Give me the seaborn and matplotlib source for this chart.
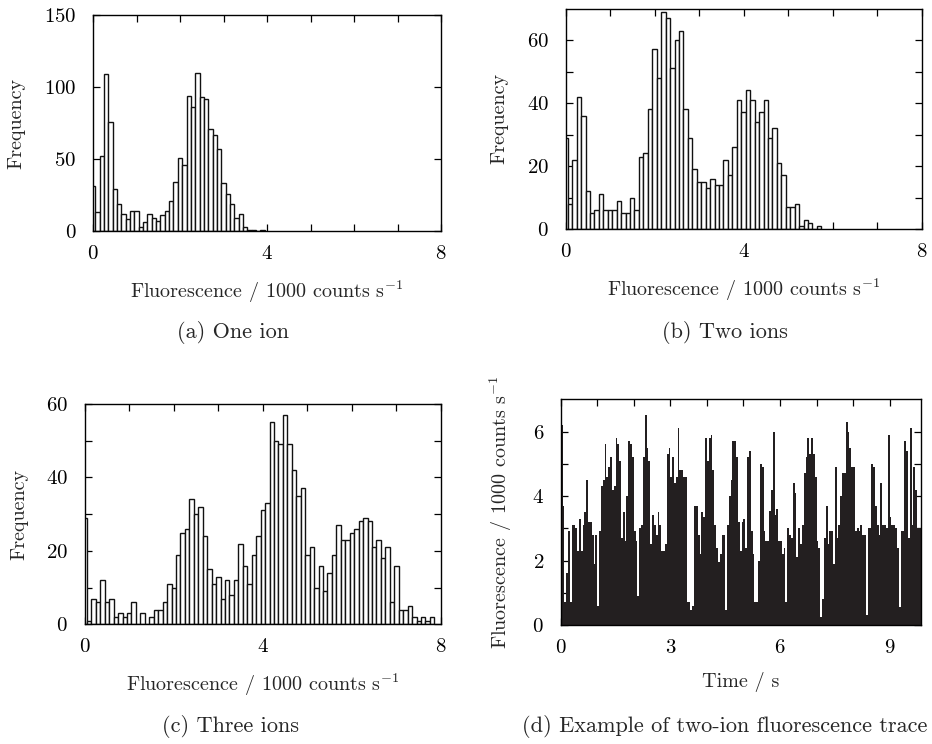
import numpy as np
import pandas as pd
import matplotlib
matplotlib.use("Agg")
import matplotlib.pyplot as plt
import seaborn as sns
from matplotlib.ticker import FixedLocator, NullFormatter

# ---------------- data ----------------
BIN = 0.1   # histogram bin width (1000 counts/s), bins centred on multiples of 0.1
DT = 0.05   # trace time step (s)

one_ion = [31, 13, 52, 109, 76, 29, 19, 12, 8, 14, 14, 3, 6, 12, 9, 7, 11, 14, 21, 34,
           51, 46, 94, 86, 110, 93, 92, 71, 67, 57, 33, 26, 19, 9, 12, 3, 1, 1, 0, 1]

two_ions = [29, 8, 22, 42, 36, 12, 5, 6, 11, 6, 6, 6, 9, 5, 5, 10, 6, 23, 24, 38,
            57, 48, 69, 67, 51, 60, 63, 38, 29, 19, 15, 15, 13, 16, 14, 14, 22, 17, 26, 41,
            37, 44, 41, 34, 37, 41, 29, 32, 21, 17, 7, 7, 8, 1, 3, 2, 0, 1]

three_ions = [29, 1, 7, 6, 12, 6, 7, 2, 3, 2, 3, 6, 0, 3, 0, 2, 4, 4, 6, 11,
              10, 19, 25, 26, 34, 30, 32, 24, 15, 11, 13, 7, 12, 8, 12, 22, 16, 11, 19, 24,
              31, 33, 55, 50, 49, 57, 49, 42, 35, 37, 19, 21, 10, 16, 9, 14, 19, 27, 23, 23,
              25, 26, 28, 29, 28, 21, 23, 18, 21, 6, 16, 4, 4, 5, 2, 1, 2, 1, 2]

trace = [6.2, 3.7, 0.7, 1.6, 2.9, 0.7, 3.1, 3.1, 3.0, 2.3,
         3.3, 2.3, 3.1, 3.5, 4.5, 3.2, 3.2, 2.8, 1.9, 2.8,
         0.6, 2.9, 4.3, 4.5, 5.6, 4.6, 4.9, 5.2, 4.2, 4.3,
         5.8, 5.6, 5.1, 2.7, 3.5, 2.6, 4.0, 5.7, 5.6, 5.2,
         2.9, 2.6, 0.9, 3.0, 3.1, 5.2, 6.5, 5.5, 5.1, 2.5,
         3.4, 3.1, 2.8, 3.5, 3.1, 2.3, 2.3, 2.5, 5.3, 5.5,
         4.6, 5.2, 4.4, 4.6, 6.1, 4.8, 4.8, 4.6, 4.6, 0.7,
         0.7, 0.45, 0.6, 3.7, 3.7, 2.8, 2.2, 3.5, 3.35, 5.8,
         5.1, 5.8, 5.9, 4.8, 3.1, 2.4, 1.95, 2.2, 2.8, 2.8,
         0.46, 3.1, 4.0, 4.5, 5.7, 5.7, 5.2, 3.2, 2.3, 3.2,
         3.3, 2.4, 5.2, 5.4, 2.9, 2.2, 0.7, 0.7, 2.0, 5.0,
         4.9, 2.9, 2.6, 2.6, 3.55, 4.2, 6.0, 3.4, 3.6, 2.6,
         2.6, 2.2, 2.4, 0.7, 3.0, 2.8, 2.7, 4.4, 4.1, 2.1,
         3.0, 2.5, 3.1, 4.7, 5.2, 5.8, 5.3, 5.8, 5.3, 4.6,
         2.6, 2.4, 0.26, 0.8, 2.7, 3.7, 2.5, 2.9, 2.9, 1.9,
         4.9, 2.7, 3.1, 4.0, 4.7, 4.7, 6.3, 6.0, 5.5, 4.9,
         4.9, 2.9, 3.0, 2.9, 3.1, 2.8, 2.8, 0.3, 3.0, 3.0,
         5.0, 4.9, 3.7, 3.1, 2.8, 4.4, 3.1, 3.1, 3.0, 5.9,
         3.35, 3.1, 3.1, 3.0, 2.4, 0.57, 2.9, 2.9, 5.7, 5.4,
         2.7, 6.1, 3.1, 4.9, 4.2, 3.0, 3.0]

hist_xlabel = r"Fluorescence / 1000 counts s$^{-1}$"
captions = ["(a) One ion", "(b) Two ions", "(c) Three ions",
            "(d) Example of two-ion fluorescence trace"]

# ---------------- style ----------------
sns.set_theme(style="ticks")
plt.rcParams["font.family"] = ["cmr10", "DejaVu Serif"]
plt.rcParams["mathtext.fontset"] = "cm"
plt.rcParams["axes.formatter.use_mathtext"] = True
plt.rcParams["axes.unicode_minus"] = False
plt.rcParams["axes.linewidth"] = 1.0
plt.rcParams["axes.edgecolor"] = "black"

TICK_FS = 15
LABEL_FS = 14.5
CAP_FS = 16

fig = plt.figure(figsize=(9.32, 7.44), dpi=100)
W, H = 932.0, 744.0


def add_axes(l, r, t, b):
    return fig.add_axes([l / W, 1 - b / H, (r - l) / W, (b - t) / H])


def style(ax, xmaj, xmin, ymaj, ymin):
    ax.xaxis.set_major_locator(FixedLocator(xmaj))
    ax.xaxis.set_minor_locator(FixedLocator(xmin))
    ax.yaxis.set_major_locator(FixedLocator(ymaj))
    ax.yaxis.set_minor_locator(FixedLocator(ymin))
    ax.xaxis.set_minor_formatter(NullFormatter())
    ax.yaxis.set_minor_formatter(NullFormatter())
    ax.tick_params(which="both", direction="in", top=True, right=True,
                   length=5, width=0.9, colors="black", labelsize=TICK_FS)
    ax.tick_params(axis="x", which="both", pad=10)
    ax.tick_params(axis="y", which="both", pad=12)
    for s in ax.spines.values():
        s.set_visible(True)
        s.set_color("black")


def hist_panel(ax, counts, ylim, ymaj, ymin):
    df = pd.DataFrame({"centre": np.arange(len(counts)) * BIN, "count": counts})
    edges = list(np.arange(len(counts) + 1) * BIN - BIN / 2)
    sns.histplot(data=df, x="centre", weights="count", bins=edges, ax=ax,
                 color="white", edgecolor="#111111", linewidth=1.0, alpha=1)
    ax.set_xlim(0, 8)
    ax.set_ylim(*ylim)
    style(ax, [0, 4, 8], [1, 2, 3, 5, 6, 7], ymaj, ymin)
    ax.set_xlabel(hist_xlabel, fontsize=LABEL_FS, labelpad=11)
    ax.set_ylabel("Frequency", fontsize=LABEL_FS, labelpad=13)


ax_a = add_axes(93, 441, 15, 231)
hist_panel(ax_a, one_ion, (0, 150), [0, 50, 100, 150], [])

ax_b = add_axes(565.5, 921.5, 8.5, 229)
hist_panel(ax_b, two_ions, (0, 70), [0, 20, 40, 60], [10, 30, 50])

ax_c = add_axes(84.7, 441, 404, 624.3)
hist_panel(ax_c, three_ions, (0, 60), [0, 20, 40, 60], [10, 30, 50])

# trace panel
ax_d = add_axes(560.7, 920.7, 399.3, 625)
tdf = pd.DataFrame({"time": np.arange(len(trace)) * DT + DT / 2, "fluor": trace})
tedges = list(np.arange(len(trace) + 1) * DT)
sns.histplot(data=tdf, x="time", weights="fluor", bins=tedges, ax=ax_d,
             color="#231f20", element="bars", linewidth=0, alpha=1)
ax_d.set_xlim(0, 9.85)
ax_d.set_ylim(0, 7)
style(ax_d, [0, 3, 6, 9], [1, 2, 4, 5, 7, 8], [0, 2, 4, 6], [1, 3, 5])
ax_d.set_xlabel("Time / s", fontsize=LABEL_FS, labelpad=11)
ax_d.set_ylabel(hist_xlabel, fontsize=LABEL_FS, labelpad=13)

# captions
fig.text(233 / W, 1 - 333 / H, captions[0], ha="center", va="center", fontsize=CAP_FS)
fig.text(725 / W, 1 - 333 / H, captions[1], ha="center", va="center", fontsize=CAP_FS)
fig.text(230 / W, 1 - 726 / H, captions[2], ha="center", va="center", fontsize=CAP_FS)
fig.text(725 / W, 1 - 726 / H, captions[3], ha="center", va="center", fontsize=CAP_FS)

fig.savefig("out.png", dpi=100)
